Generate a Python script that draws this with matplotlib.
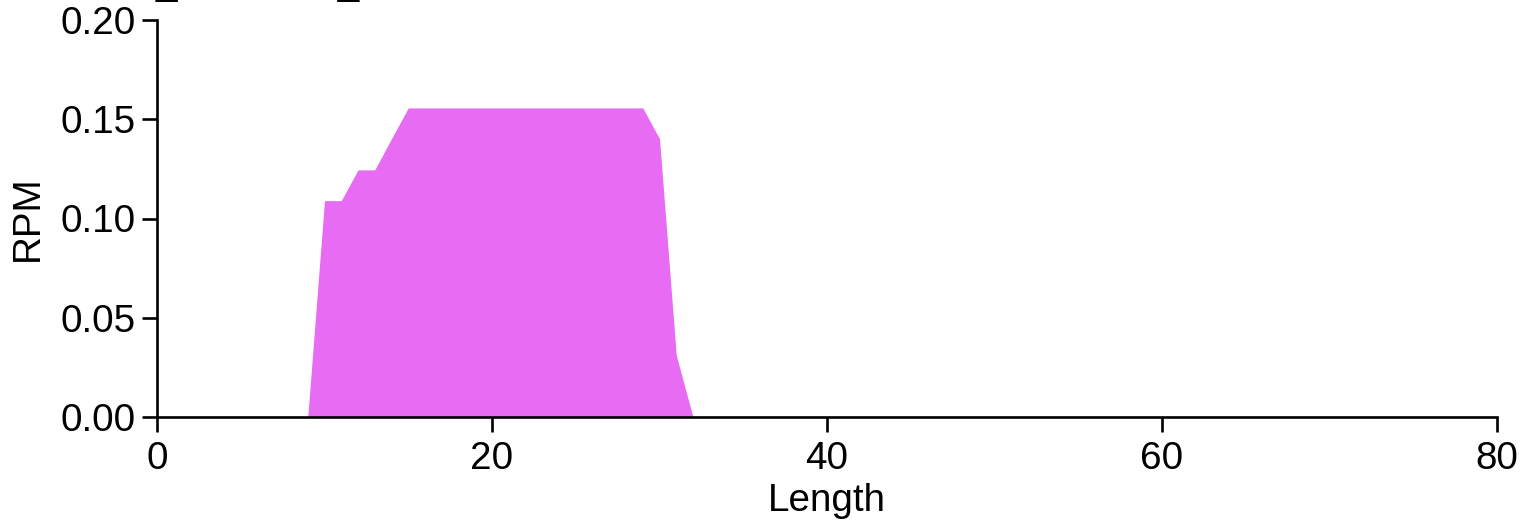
import matplotlib
matplotlib.use("Agg")
import matplotlib.pyplot as plt

lengths = [9, 10, 11, 12, 13, 14, 15, 16, 17, 18, 19, 20, 21, 22, 23, 24, 25,
           26, 27, 28, 29, 30, 31, 32]
rpm = [0.0, 0.109, 0.109, 0.1245, 0.1245, 0.1402, 0.1557, 0.1557, 0.1557,
       0.1557, 0.1557, 0.1557, 0.1557, 0.1557, 0.1557, 0.1557, 0.1557, 0.1557,
       0.1557, 0.1557, 0.1557, 0.1402, 0.0311, 0.0]
x_ticks = [0, 20, 40, 60, 80]
y_ticks = [0.00, 0.05, 0.10, 0.15, 0.20]
y_tick_labels = ["0.00", "0.05", "0.10", "0.15", "0.20"]
fill_color = "#E76BF3"

plt.rcParams["font.family"] = ["Liberation Sans", "DejaVu Sans"]
FS = 27.8

fig = plt.figure(figsize=(15.27, 5.2), dpi=100)
W, H = 1527, 520
ax = fig.add_axes([157 / W, 1 - 417 / H, (1497 - 157) / W, (417 - 20) / H])

ax.fill_between(lengths, rpm, 0, color=fill_color, linewidth=0)

ax.set_xlim(0, 80)
ax.set_ylim(0, 0.20)
ax.set_xticks(x_ticks)
ax.set_yticks(y_ticks)
ax.set_yticklabels(y_tick_labels)
for s in ["top", "right"]:
    ax.spines[s].set_visible(False)
for s in ["left", "bottom"]:
    ax.spines[s].set_linewidth(1.9)
    ax.spines[s].set_color("black")
ax.tick_params(axis="both", length=10.5, width=1.9, colors="black",
               labelsize=FS)
ax.tick_params(axis="x", pad=7)
ax.tick_params(axis="y", pad=5)
ax.set_xlabel("Length", fontsize=FS, labelpad=4)
ax.set_ylabel("RPM", fontsize=FS, labelpad=10.5)

# clipped title at the very top (only underscores remain visible)
fig.text(156 / W, 1 + 6 / H, "_" + " " * 15 + "_", fontsize=FS,
         ha="left", va="baseline")

fig.savefig("out.png", dpi=100)
